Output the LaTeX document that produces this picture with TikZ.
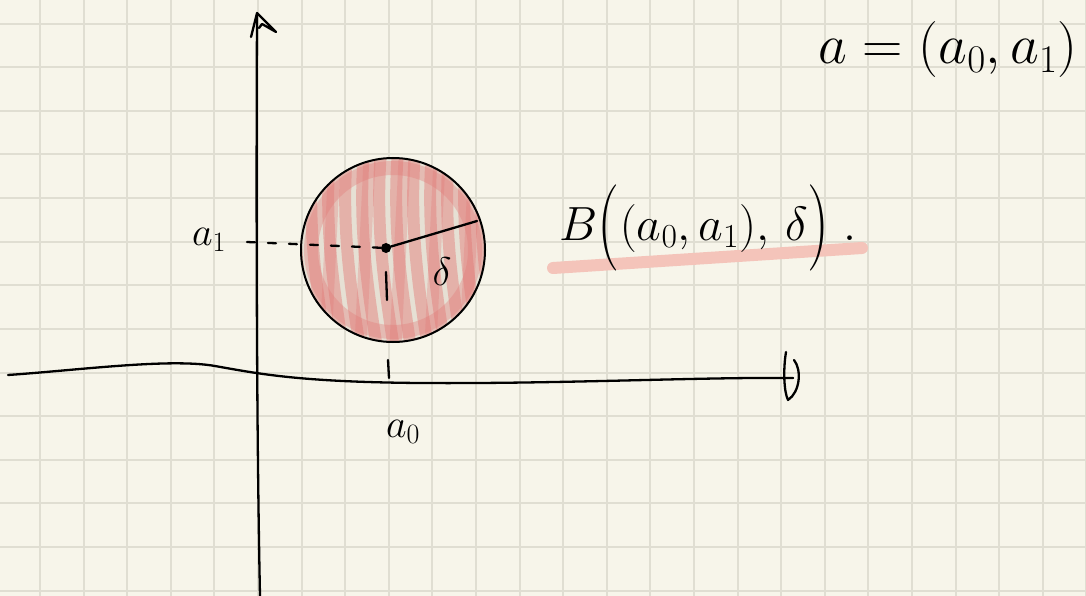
\documentclass[tikz,border=0pt]{standalone}
\usepackage{fix-cm}
\definecolor{paper}{RGB}{247,245,234}
\definecolor{gridc}{RGB}{224,222,210}
\definecolor{ballbase}{RGB}{230,224,212}
\definecolor{ballred}{RGB}{226,120,118}
\definecolor{hl}{RGB}{244,196,186}
\newcommand{\tallopen}{\mathopen{\vcenter{\hbox{\scalebox{1.3}[1.8]{$($}}}}}
\newcommand{\tallclose}{\mathclose{\vcenter{\hbox{\scalebox{1.3}[1.8]{$)$}}}}}
\tikzset{
  ink/.style={black, line width=2.3pt, line cap=round, line join=round},
  gridline/.style={gridc, line width=2pt},
  scribble/.style={ballred, opacity=0.45, line width=12pt, line cap=round},
  hand/.style={font=\fontsize{40}{44}\selectfont, inner sep=0pt},
  bighand/.style={font=\fontsize{48}{52}\selectfont, inner sep=0pt},
  defhand/.style={font=\fontsize{56}{60}\selectfont, inner sep=0pt}
}
\begin{document}
\begin{tikzpicture}[x=1pt,y=-1pt]
\fill[paper] (0,0) rectangle (1086,596);
\useasboundingbox (0,0) rectangle (1086,596);
% grid
\foreach \i in {0,...,24} \draw[gridline] ({40+43.6*\i},0) -- ++(0,596);
\foreach \j in {0,...,13} \draw[gridline] (0,{23.7+43.6*\j}) -- ++(1086,0);
% ball
\coordinate (c) at (393,250);
\fill[ballbase] (c) circle (92pt);
\begin{scope}
  \clip (c) circle (92pt);
  \foreach \x in {296,313,...,490} \draw[scribble] (\x,150) .. controls ({\x-6},230) and ({\x+4},290) .. ({\x+14},355);
  \foreach \x in {325,360,...,470} \draw[scribble, opacity=0.3] ({\x+10},150) -- ({\x},355);
  \draw[scribble, opacity=0.35, line width=14pt] (c) circle (82pt);
\end{scope}
\draw[ink, line width=2pt] (c) circle (92pt);
% axes
\draw[ink] (260,596) .. controls (257,450) and (256,250) .. (257,15);
\draw[ink] (251,37) -- (257,13) -- (276,32) -- (262,24) -- (259,28);
\draw[ink] (8,375) .. controls (80,370) and (170,358) .. (215,366)
  .. controls (260,374) and (300,382) .. (420,383)
  .. controls (560,384) and (700,377) .. (793,378);
\draw[ink] (786,352) .. controls (783,370) and (784,392) .. (788,400)
  .. controls (800,392) and (802,370) .. (794,360);
\draw[ink] (780,378) -- (793,378);
% centre, radius, dashes
\node[circle, fill=black, minimum size=10pt, inner sep=0pt] (dot) at (386,248) {};
\coordinate (rim) at (477,221);
\draw[ink] (dot.center) -- (rim);
\coordinate (dashstart) at (247,242);
\draw[ink, dash pattern=on 8pt off 13pt] (dashstart) -- (dot.center);
\draw[ink] (386,272) -- (387,300);
\draw[ink] (388,360) -- (389,378);
% labels
\node[hand] (a1) at (209,240) {$a_1$};
\node[hand] (a0) at (403,432) {$a_0$};
\node[hand] (delta) at (442,272) {$\delta$};
% highlight and ball notation
\coordinate (hlA) at (553,268);
\coordinate (hlB) at (862,248);
\draw[hl, line width=12pt, line cap=round] (hlA) -- (hlB);
\node[bighand] (ball) at (708,228) {$B\tallopen(a_0,a_1),\,\delta\tallclose\;.$};
% definition
\node[defhand] (def) at (948,50) {$a=(a_0,a_1)$};
\end{tikzpicture}
\end{document}
